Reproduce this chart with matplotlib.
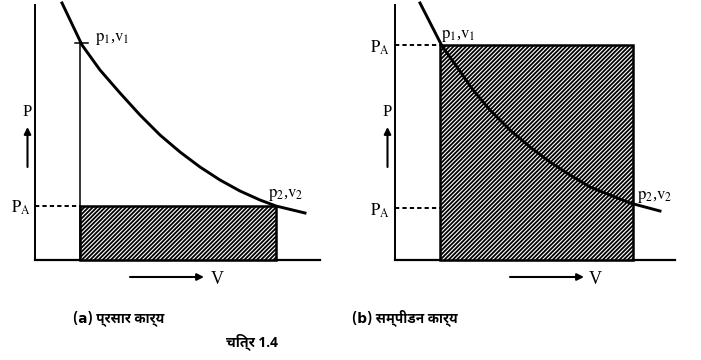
import os
import matplotlib
matplotlib.use("Agg")
import matplotlib.pyplot as plt
from matplotlib import font_manager
from matplotlib.ft2font import FT2Font
from matplotlib.patches import Rectangle

# (a) expansion work: curve
va_curve = [2.7, 4.7, 6.5, 8.5, 10.5, 12.5, 14.5, 16.5, 18.5, 20.5, 22.5, 24.1, 27.0]
pa_curve = [25.7, 21.5, 19.0, 16.7, 14.5, 12.5, 10.8, 9.3, 8.0, 6.9, 6.0, 5.4, 4.7]
va_v1, va_v2 = 4.5, 24.1
va_p1, va_pA = 21.7, 5.4

# (b) compression work
vb_curve = [2.5, 4.7, 6.2, 7.8, 9.5, 11.5, 13.5, 15.5, 17.5, 19.5, 21.5, 23.5, 26.5]
pb_curve = [25.7, 21.4, 19.3, 17.0, 15.0, 13.0, 11.3, 9.8, 8.5, 7.3, 6.5, 5.7, 4.9]
vb_v1, vb_v2 = 4.5, 23.8
pb_pA_hi, pb_pA_lo = 21.5, 5.2

captions = ["(a) प्रसार कार्य", "(b) सम्पीडन कार्य"]
fig_title = "चित्र 1.4"


def find_deva():
    # pick a bold devanagari font if one is installed
    found = []
    for f in font_manager.findSystemFonts():
        try:
            cm = FT2Font(f).get_charmap()
        except Exception:
            continue
        if 0x0915 in cm and 0x092A in cm:
            found.append(f)
    for pref in ['NotoSansDevanagari-Bold', 'NotoSansDevanagariUI-Bold', 'Mukta-Bold', 'Hind-Bold']:
        for f in found:
            if os.path.basename(f).startswith(pref + '.'):
                return f
    return found[0] if found else None


deva_path = find_deva()
deva_family = ['DejaVu Sans']
if deva_path:
    font_manager.fontManager.addfont(deva_path)
    deva_family = [font_manager.FontProperties(fname=deva_path).get_name(), 'DejaVu Sans']

plt.rcParams['mathtext.fontset'] = 'stix'
plt.rcParams['font.family'] = ['Liberation Serif', 'DejaVu Serif']
plt.rcParams['hatch.linewidth'] = 1.3

fig = plt.figure(figsize=(7.01, 3.6), dpi=100)
axa = fig.add_axes([0, 0, 350 / 701, 1])
axb = fig.add_axes([350 / 701, 0, 351 / 701, 1])
axa.set_xlim(-3.5, 31.5)
axb.set_xlim(-4.5, 30.6)
for ax in (axa, axb):
    ax.set_ylim(-10, 26)
    ax.axis('off')

dash = (0, (2.2, 1.6))
fs = 12
hatch = '////////'


def frame(ax, xmax, varrow, vtext_x):
    ax.plot([0, 0], [0, 25.5], color='black', lw=1.4)
    ax.plot([0, xmax], [0, 0], color='black', lw=1.6)
    ax.text(-0.8, 14.8, "P", fontsize=fs, ha='center', va='center')
    ax.annotate("", xy=(-0.75, 13.3), xytext=(-0.75, 9.3),
                arrowprops=dict(arrowstyle='-|>', color='black', lw=1.5,
                                mutation_scale=10, shrinkA=0, shrinkB=0))
    ax.annotate("", xy=(varrow[1], -1.7), xytext=(varrow[0], -1.7),
                arrowprops=dict(arrowstyle='-|>', color='black', lw=1.5,
                                mutation_scale=10, shrinkA=0, shrinkB=0))
    ax.text(vtext_x, -1.9, "V", fontsize=fs + 1, ha='center', va='center')


def point_label(ax, x, y, n):
    ax.text(x, y, r"$\mathrm{p_%d}$,$\mathrm{v_%d}$" % (n, n), fontsize=fs,
            ha='left', va='baseline')


# panel (a)
frame(axa, 28.5, (9.5, 16.9), 18.2)
axa.add_patch(Rectangle((va_v1, 0), va_v2 - va_v1, va_pA, facecolor='white',
                        edgecolor='black', hatch=hatch, lw=1.8, zorder=2))
axa.plot([va_v1, va_v1], [0, va_p1], color='black', lw=1.1)
axa.plot([va_v1 - 0.5, va_v1 + 0.8], [va_p1, va_p1], color='black', lw=1.1)
axa.plot([0, va_v1], [va_pA, va_pA], color='black', lw=1.4, ls=dash)
axa.plot(va_curve, pa_curve, color='black', lw=2.1, zorder=3,
         solid_joinstyle='round')
axa.text(-0.4, va_pA - 0.2, r"$\mathrm{P_A}$", fontsize=fs, ha='right', va='center')
point_label(axa, 6.0, 21.9, 1)
point_label(axa, 23.3, 6.3, 2)

# panel (b)
frame(axb, 28.0, (11.5, 18.9), 20.0)
axb.add_patch(Rectangle((vb_v1, 0), vb_v2 - vb_v1, pb_pA_hi, facecolor='white',
                        edgecolor='black', hatch=hatch, lw=1.8, zorder=2))
axb.plot([0, vb_v1], [pb_pA_hi, pb_pA_hi], color='black', lw=1.4, ls=dash)
axb.plot([0, vb_v1], [pb_pA_lo, pb_pA_lo], color='black', lw=1.4, ls=dash)
axb.plot(vb_curve, pb_curve, color='black', lw=2.1, zorder=3,
         solid_joinstyle='round')
axb.text(-0.5, pb_pA_hi - 0.3, r"$\mathrm{P_A}$", fontsize=fs, ha='right', va='center')
axb.text(-0.5, pb_pA_lo - 0.3, r"$\mathrm{P_A}$", fontsize=fs, ha='right', va='center')
point_label(axb, 4.6, 22.2, 1)
point_label(axb, 24.2, 6.1, 2)

fig.text(119 / 701, 1 - 318 / 360, captions[0], family=deva_family,
         fontweight='bold', fontsize=9.8, ha='center', va='center')
fig.text(405 / 701, 1 - 318 / 360, captions[1], family=deva_family,
         fontweight='bold', fontsize=9.8, ha='center', va='center')
fig.text(252 / 701, 1 - 342 / 360, fig_title, family=deva_family,
         fontweight='bold', fontsize=10.2, ha='center', va='center')

fig.savefig("out.png", dpi=100)
